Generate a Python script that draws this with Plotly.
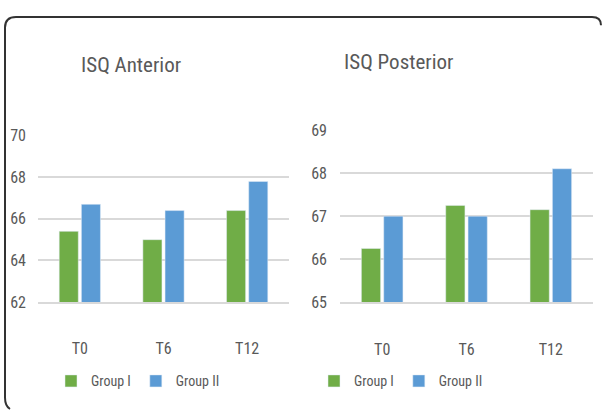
import plotly.graph_objects as go

categories = ["T0", "T6", "T12"]
anterior_group1 = [65.4, 65.0, 66.4]
anterior_group2 = [66.7, 66.4, 67.8]
posterior_group1 = [66.25, 67.25, 67.15]
posterior_group2 = [67.0, 67.0, 68.1]
anterior_ticks = [62, 64, 66, 68, 70]
posterior_ticks = [65, 66, 67, 68, 69]
series_names = ["Group I", "Group II"]

GREEN = "#70AD47"
BLUE = "#5B9BD5"
GRID = "#D9D9D9"
TXT = "#595959"
FONT = "Roboto Condensed, Liberation Sans Narrow, DejaVu Sans Condensed, sans-serif"
W, H = 602, 419

fig = go.Figure()
fig.add_trace(go.Bar(x=categories, y=anterior_group1, name=series_names[0], marker_color=GREEN,
                     xaxis="x", yaxis="y", legend="legend"))
fig.add_trace(go.Bar(x=categories, y=anterior_group2, name=series_names[1], marker_color=BLUE,
                     xaxis="x", yaxis="y", legend="legend"))
fig.add_trace(go.Bar(x=categories, y=posterior_group1, name=series_names[0], marker_color=GREEN,
                     xaxis="x2", yaxis="y2", legend="legend2"))
fig.add_trace(go.Bar(x=categories, y=posterior_group2, name=series_names[1], marker_color=BLUE,
                     xaxis="x2", yaxis="y2", legend="legend2"))


def px(x):
    return x / W


def py(y):
    return 1 - y / H


axis_font = dict(family=FONT, size=16, color=TXT)
legend_font = dict(family=FONT, size=14, color=TXT)

fig.update_layout(
    width=W, height=H,
    margin=dict(l=0, r=0, t=0, b=0),
    paper_bgcolor="white", plot_bgcolor="white",
    barmode="group", bargap=0.47, bargroupgap=0.14,
    font=dict(family=FONT, color=TXT),
    xaxis=dict(domain=[px(38), px(289)], anchor="y", showgrid=False, showline=True,
               linecolor=GRID, linewidth=2, ticks="", tickfont=axis_font, ticklabelstandoff=31),
    yaxis=dict(domain=[py(307), py(132.7)], anchor="x", range=[62, 70], tickvals=anterior_ticks,
               showgrid=True, gridcolor=GRID, gridwidth=2, zeroline=False, showline=False,
               ticks="", tickfont=axis_font, ticklabelstandoff=11),
    xaxis2=dict(domain=[px(340), px(593)], anchor="y2", showgrid=False, showline=True,
                linecolor=GRID, linewidth=2, ticks="", tickfont=axis_font, ticklabelstandoff=31),
    yaxis2=dict(domain=[py(307.3), py(126.7)], anchor="x2", range=[65, 69], tickvals=posterior_ticks,
                showgrid=True, gridcolor=GRID, gridwidth=2, zeroline=False, showline=False,
                ticks="", tickfont=axis_font, ticklabelstandoff=12),
    legend=dict(orientation="h", x=px(138), y=py(390), xanchor="center", yanchor="middle",
                font=legend_font, itemwidth=30, bgcolor="rgba(0,0,0,0)"),
    legend2=dict(orientation="h", x=px(401), y=py(390), xanchor="center", yanchor="middle",
                 font=legend_font, itemwidth=30, bgcolor="rgba(0,0,0,0)"),
    annotations=[
        dict(text="ISQ Anterior", x=px(131), y=py(59), xref="paper", yref="paper",
             showarrow=False, xanchor="center", yanchor="middle",
             font=dict(family=FONT, size=21, color=TXT)),
        dict(text="ISQ Posterior", x=px(398), y=py(56), xref="paper", yref="paper",
             showarrow=False, xanchor="center", yanchor="middle",
             font=dict(family=FONT, size=21, color=TXT)),
    ],
)

# rounded frame: only its top and left sides fall inside the picture
pts = [(601, 17), (601, 8.5), (592, 8.5), (16, 8.5), (5, 8.5), (5, 19.5), (5, 407), (5, 416), (10, 419)]
p = [(px(a), py(b)) for a, b in pts]
path = (f"M {p[0][0]},{p[0][1]} Q {p[1][0]},{p[1][1]} {p[2][0]},{p[2][1]} "
        f"L {p[3][0]},{p[3][1]} Q {p[4][0]},{p[4][1]} {p[5][0]},{p[5][1]} "
        f"L {p[6][0]},{p[6][1]} Q {p[7][0]},{p[7][1]} {p[8][0]},{p[8][1]}")
fig.add_shape(type="path", path=path, xref="paper", yref="paper",
              line=dict(color="#333333", width=2), fillcolor="rgba(0,0,0,0)", layer="above")

fig.write_html("out.html", config={"displayModeBar": False},
               post_script="document.body.style.margin='0';")
